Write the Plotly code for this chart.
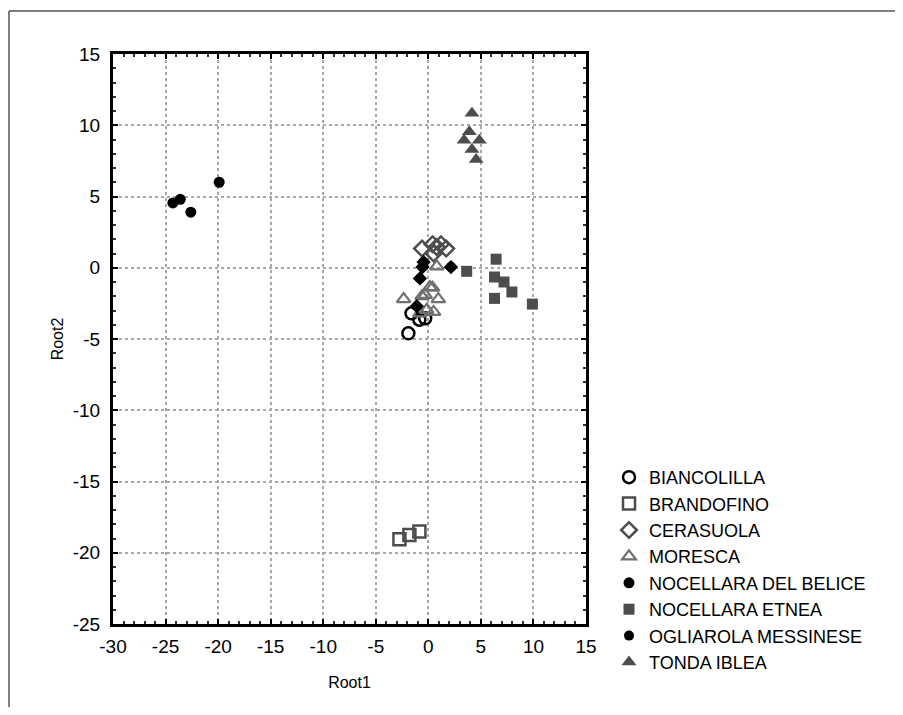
import plotly.graph_objects as go

# ---- data ----
biancolilla_x = [-1.9, -1.6, -0.85, -0.3]
biancolilla_y = [-4.6, -3.2, -3.65, -3.55]

brandofino_x = [-2.75, -1.8, -0.85]
brandofino_y = [-19.05, -18.75, -18.5]

cerasuola_x = [-0.6, 0.4, 1.2, 1.7, 0.5, 0.8]
cerasuola_y = [1.35, 1.65, 1.65, 1.35, 1.0, 1.45]

moresca_x = [0.8, 0.15, -2.35, 0.95, -0.6, -0.15, 0.5, -0.8, 0.4, -0.3]
moresca_y = [0.1, -1.35, -2.2, -2.2, -2.0, -2.95, -3.1, -3.2, -1.4, -1.9]

belice_x = [-24.3, -23.6, -22.6, -19.9]
belice_y = [4.55, 4.8, 3.9, 6.0]

etnea_x = [3.65, 6.45, 6.3, 7.2, 7.95, 6.3, 9.9]
etnea_y = [-0.25, 0.6, -0.65, -1.0, -1.7, -2.15, -2.55]

ogliarola_x = [2.15, -0.45, -0.55, -0.8, -1.1]
ogliarola_y = [0.05, 0.4, 0.05, -0.75, -2.7]

tonda_x = [4.15, 3.9, 3.4, 4.85, 4.15, 4.55]
tonda_y = [10.85, 9.55, 8.95, 8.95, 8.3, 7.6]

x_ticks = [-30, -25, -20, -15, -10, -5, 0, 5, 10, 15]
y_ticks = [-25, -20, -15, -10, -5, 0, 5, 10, 15]

FONT = "Liberation Sans, Arial, sans-serif"
DARK = "#4d4d4d"
MID = "#707070"

fig = go.Figure()

def add(name, xs, ys, symbol, color, fill, size=12, lw=2.5, showlegend=True):
    fig.add_trace(go.Scatter(
        x=xs, y=ys, mode="markers", name=name,
        legendgroup=name + ("" if showlegend else "_o"), showlegend=showlegend,
        marker=dict(symbol=symbol, size=size,
                    color=fill, line=dict(color=color, width=lw)),
    ))

add("BIANCOLILLA", biancolilla_x, biancolilla_y, "circle-open", "black", "black", 12, 2.5)
add("BRANDOFINO", brandofino_x, brandofino_y, "square-open", DARK, DARK, 12, 2.5)
add("CERASUOLA", cerasuola_x, cerasuola_y, "diamond-open", DARK, DARK, 12, 2.5)
add("MORESCA", moresca_x, moresca_y, "triangle-up-open", MID, MID, 12, 2.2)
add("NOCELLARA DEL BELICE", belice_x, belice_y, "circle", "black", "black", 11, 0)
add("NOCELLARA ETNEA", etnea_x, etnea_y, "square", DARK, DARK, 11, 0)
add("OGLIAROLA MESSINESE", ogliarola_x, ogliarola_y, "circle", "black", "black", 10, 0)
add("OGLIAROLA MESSINESE", ogliarola_x, ogliarola_y, "diamond", "black", "black", 11, 0,
    showlegend=False)
add("TONDA IBLEA", tonda_x, tonda_y, "triangle-up", DARK, DARK, 13, 0)

axis_common = dict(
    showgrid=True, gridcolor="#a8a8a8", griddash="dot", gridwidth=1.5,
    zeroline=False, showline=True, linecolor="black", linewidth=3, mirror="allticks",
    ticks="inside", ticklen=5, tickcolor="black", tickwidth=1.5,
    minor=dict(ticks="inside", ticklen=3, tickcolor="#333", dtick=1, showgrid=False),
    tickfont=dict(family=FONT, size=19, color="black"),
)

fig.update_xaxes(range=[-30, 15], tickvals=x_ticks, ticktext=[str(v) for v in x_ticks],
                 ticklabelstandoff=3,
                 title=dict(text="Root1", font=dict(family=FONT, size=16, color="black"), standoff=22),
                 **axis_common)
fig.update_yaxes(range=[-25, 15], tickvals=y_ticks, ticktext=[str(v) for v in y_ticks],
                 ticklabelstandoff=6,
                 title=dict(text="Root2", font=dict(family=FONT, size=16, color="black"), standoff=6),
                 **axis_common)

# page body has an 8px margin; figure coordinates below are reference pixels minus 8
W, H = 895, 699
L, R, T, B = 105, 578, 46, 616
def px(xp):
    return (xp - L) / (R - L)
def py(yp):
    return (B - yp) / (B - T)

# outer frame around the whole figure (top, left, right)
for (x0, y0, x1, y1) in [(1, 3, 894, 3), (1, 3, 1, 720), (894, 3, 894, 720)]:
    fig.add_shape(type="line", xref="paper", yref="paper",
                  x0=px(x0), y0=py(y0), x1=px(x1), y1=py(y1),
                  line=dict(color="#555", width=1.5))

fig.update_layout(
    width=W, height=H,
    margin=dict(l=L, r=W - R, t=T, b=H - B),
    paper_bgcolor="white", plot_bgcolor="white",
    font=dict(family=FONT, color="black"),
    legend=dict(x=px(601), y=py(451), xanchor="left", yanchor="top",
                font=dict(family=FONT, size=18, color="black"),
                tracegroupgap=0, bgcolor="rgba(0,0,0,0)", itemsizing="trace"),
)

fig.write_html("out.html")
